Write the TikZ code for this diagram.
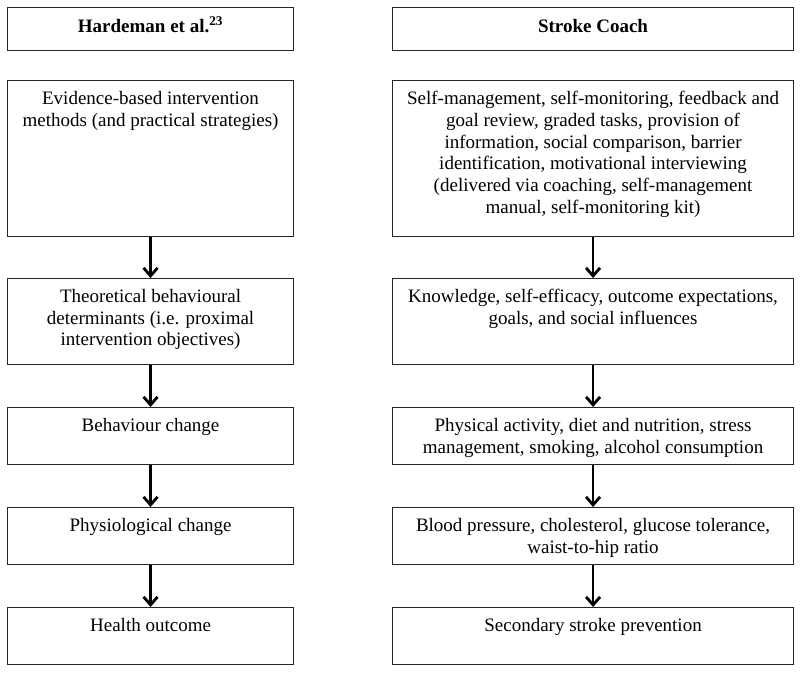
\documentclass[tikz,border=0pt]{standalone}
\usepackage{fontspec}
\setmainfont{Liberation Serif}
\usetikzlibrary{arrows.meta}
\begin{document}
\begin{tikzpicture}[x=1pt,y=-1pt,
  box/.style={draw=black!85, line width=1.1pt, inner sep=0pt, anchor=north west},
  lbox/.style={box, minimum width=286pt},
  rbox/.style={box, minimum width=401pt},
  txt/.style={anchor=north, inner sep=0pt, align=center, font=\fontsize{19}{21.8}\selectfont},
  hdr/.style={anchor=base, inner sep=0pt, font=\bfseries\fontsize{19}{21.8}\selectfont},
  arr/.style={-{Straight Barb[length=8pt,width=14pt]}, line width=2.8pt}]
\useasboundingbox (0,0) rectangle (800,672);

% left column
\node[lbox, minimum height=43pt] (lh) at (7,7) {};
\node[lbox, minimum height=156pt] (l2) at (7,80) {};
\node[lbox, minimum height=86pt] (l3) at (7,278) {};
\node[lbox, minimum height=57pt] (l4) at (7,407) {};
\node[lbox, minimum height=57pt] (l5) at (7,507) {};
\node[lbox, minimum height=57pt] (l6) at (7,607) {};

% right column
\node[rbox, minimum height=43pt] (rh) at (392,7) {};
\node[rbox, minimum height=156pt] (r2) at (392,80) {};
\node[rbox, minimum height=86pt] (r3) at (392,278) {};
\node[rbox, minimum height=57pt] (r4) at (392,407) {};
\node[rbox, minimum height=57pt] (r5) at (392,507) {};
\node[rbox, minimum height=57pt] (r6) at (392,607) {};

% texts
\node[hdr] (lht) at ([yshift=-25pt]lh.north) {Hardeman et al.\textsuperscript{23}};
\node[hdr] (rht) at ([yshift=-25pt]rh.north) {Stroke Coach};

\node[txt] (l2t) at ([yshift=-11pt]l2.north) {Evidence-based intervention\\methods (and practical strategies)};
\node[txt] (l3t) at ([yshift=-11pt]l3.north) {Theoretical behavioural\\determinants (i.e. proximal\\intervention objectives)};
\node[txt] (l4t) at ([yshift=-11pt]l4.north) {Behaviour change};
\node[txt] (l5t) at ([yshift=-11pt]l5.north) {Physiological change};
\node[txt] (l6t) at ([yshift=-11pt]l6.north) {Health outcome};

\node[txt] (r2t) at ([yshift=-11pt]r2.north) {Self-management, self-monitoring, feedback and\\goal review, graded tasks, provision of\\information, social comparison, barrier\\identification, motivational interviewing\\(delivered via coaching, self-management\\manual, self-monitoring kit)};
\node[txt] (r3t) at ([yshift=-11pt]r3.north) {Knowledge, self-efficacy, outcome expectations,\\goals, and social influences};
\node[txt] (r4t) at ([yshift=-11pt]r4.north) {Physical activity, diet and nutrition, stress\\management, smoking, alcohol consumption};
\node[txt] (r5t) at ([yshift=-11pt]r5.north) {Blood pressure, cholesterol, glucose tolerance,\\waist-to-hip ratio};
\node[txt] (r6t) at ([yshift=-11pt]r6.north) {Secondary stroke prevention};

% arrows
\draw[arr] (l2) -- (l3);
\draw[arr] (l3) -- (l4);
\draw[arr] (l4) -- (l5);
\draw[arr] (l5) -- (l6);
\draw[arr] (r2) -- (r3);
\draw[arr] (r3) -- (r4);
\draw[arr] (r4) -- (r5);
\draw[arr] (r5) -- (r6);
\end{tikzpicture}
\end{document}
